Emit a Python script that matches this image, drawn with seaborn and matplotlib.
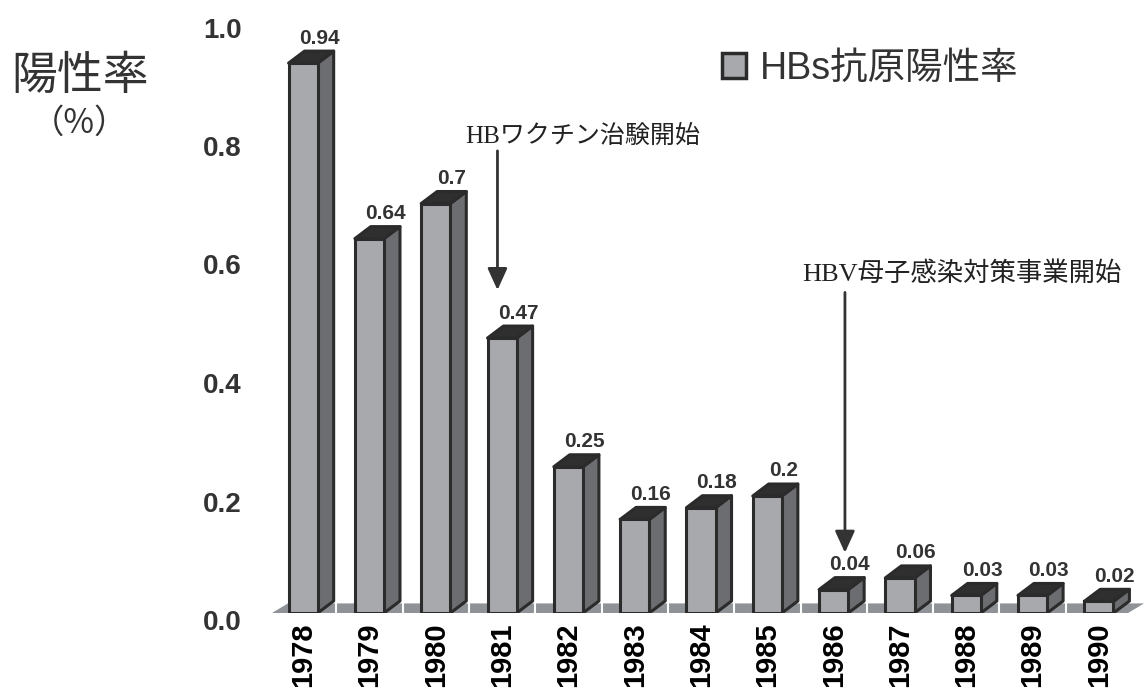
import matplotlib
matplotlib.use("Agg")
import matplotlib.pyplot as plt
import matplotlib.transforms as mtransforms
from matplotlib.patches import Polygon, Patch
import seaborn as sns
import pandas as pd

# data
years = ["1978", "1979", "1980", "1981", "1982", "1983", "1984",
         "1985", "1986", "1987", "1988", "1989", "1990"]
rates = [0.94, 0.64, 0.70, 0.47, 0.25, 0.16, 0.18, 0.20, 0.04, 0.06, 0.03, 0.03, 0.02]
yticks = [0.0, 0.2, 0.4, 0.6, 0.8, 1.0]
events = ["HBワクチン治験開始", "HBV母子感染対策事業開始"]
event_years = ["1981", "1986"]
series_name = "HBs抗原陽性率"

sns.set_theme(style="white")
plt.rcParams["font.family"] = ["Liberation Sans", "Noto Sans CJK JP", "DejaVu Sans"]

FRONT = "#a7a9ac"
SIDE = "#6c6d71"
TOP = "#2f2f2f"
EDGE = "#2b2b2b"
FLOOR = "#8f9296"
TXT = "#333333"

fig = plt.figure(figsize=(11.44, 6.88), dpi=100)
ax = fig.add_axes([272 / 1144, 75 / 688, 872 / 1144, 585 / 688])

df = pd.DataFrame({"year": years, "rate": rates})
sns.barplot(data=df, x="year", y="rate", ax=ax, width=0.44, color=FRONT,
            saturation=1, edgecolor=EDGE, linewidth=2.2, zorder=3)

ax.set_xlim(-0.47, 12.68)
ax.set_ylim(0, 1.0)

# 3D depth of the bars
dx, dy = 0.24, 0.0205

# floor
floor = Polygon([(-0.47, 0), (-0.47 + dx, dy * 0.8), (12.68, dy * 0.8), (12.68 - dx, 0)],
                closed=True, facecolor=FLOOR, edgecolor="none", zorder=1, clip_on=False)
ax.add_patch(floor)
for i in range(len(years) - 1):
    ax.plot([i + 0.5, i + 0.5], [0, dy * 0.8], color="white", lw=1.5, zorder=1.5)

for bar, v in zip(ax.patches[:len(rates)], rates):
    x0 = bar.get_x()
    x1 = x0 + bar.get_width()
    side = Polygon([(x1, 0), (x1 + dx, dy), (x1 + dx, v + dy), (x1, v)], closed=True,
                   facecolor=SIDE, edgecolor=EDGE, linewidth=2.2, joinstyle="round", zorder=2.5)
    top = Polygon([(x0, v), (x0 + dx, v + dy), (x1 + dx, v + dy), (x1, v)], closed=True,
                  facecolor=TOP, edgecolor=EDGE, linewidth=2.2, joinstyle="round", zorder=2.5)
    ax.add_patch(side)
    ax.add_patch(top)
    ax.text(x0 + bar.get_width() / 2 + dx, v + dy + 0.006, f"{v:g}", ha="center", va="bottom",
            fontsize=15, fontweight="bold", color=TXT, zorder=4)

# axes styling
sns.despine(ax=ax, left=True, bottom=True)
ax.set_xlabel("")
ax.set_ylabel("")
ax.set_yticks(yticks)
ax.set_yticklabels([f"{t:.1f}" for t in yticks])
ax.tick_params(axis="y", length=0, pad=22, labelsize=20, labelcolor=TXT)
ax.tick_params(axis="x", length=0, pad=7, labelsize=21, labelcolor="black", labelrotation=90)
# the value axis labels in the original are spread a little wider than the bars
for lab, t in zip(ax.get_yticklabels(), yticks):
    lab.set_fontweight("bold")
    off = (7 - 7.5 * t) / 100
    lab.set_transform(lab.get_transform() + mtransforms.ScaledTranslation(0, -off, fig.dpi_scale_trans))
for lab in ax.get_xticklabels():
    lab.set_fontweight("bold")
    lab.set_va("top")

# axis title
fig.text(80 / 1144, 1 - 76 / 688, "陽性率", ha="center", va="center", fontsize=33,
         color=TXT, family=["Noto Sans CJK JP"])
fig.text(80 / 1144, 1 - 123 / 688, "（%）", ha="center", va="center", fontsize=24,
         color=TXT, family=["Noto Sans CJK JP"])

# legend
ax.legend(handles=[Patch(facecolor=FRONT, edgecolor=EDGE, linewidth=2.5, label=series_name)],
          loc="upper left", bbox_to_anchor=(722 / 1144, 1 - 51 / 688), bbox_transform=fig.transFigure,
          frameon=False, handlelength=0.65, handleheight=0.65, handletextpad=0.35,
          borderpad=0, borderaxespad=0, labelcolor=TXT,
          prop={"family": ["Liberation Sans", "Noto Sans CJK JP"], "size": 27})

# event annotations
ann_fam = ["Liberation Serif", "Noto Sans CJK JP"]
arrow_props = dict(arrowstyle="-|>,head_length=1.1,head_width=0.5", color=TXT, lw=2, shrinkA=0, shrinkB=0)
pos = {y: i for i, y in enumerate(years)}
i1 = pos[event_years[0]]
ax.annotate("", xy=(i1 - 0.07, 0.552), xytext=(i1 - 0.07, 0.79), arrowprops=arrow_props, zorder=5)
ax.text(i1 + 1.22, 0.815, events[0], ha="center", va="center", fontsize=18, color="#222222",
        family=ann_fam)
i2 = pos[event_years[1]]
ax.annotate("", xy=(i2 + 0.17, 0.103), xytext=(i2 + 0.17, 0.548), arrowprops=arrow_props, zorder=5)
ax.text(i2 + 1.93, 0.58, events[1], ha="center", va="center", fontsize=19, color="#222222",
        family=ann_fam)

fig.savefig("out.png", dpi=100)
